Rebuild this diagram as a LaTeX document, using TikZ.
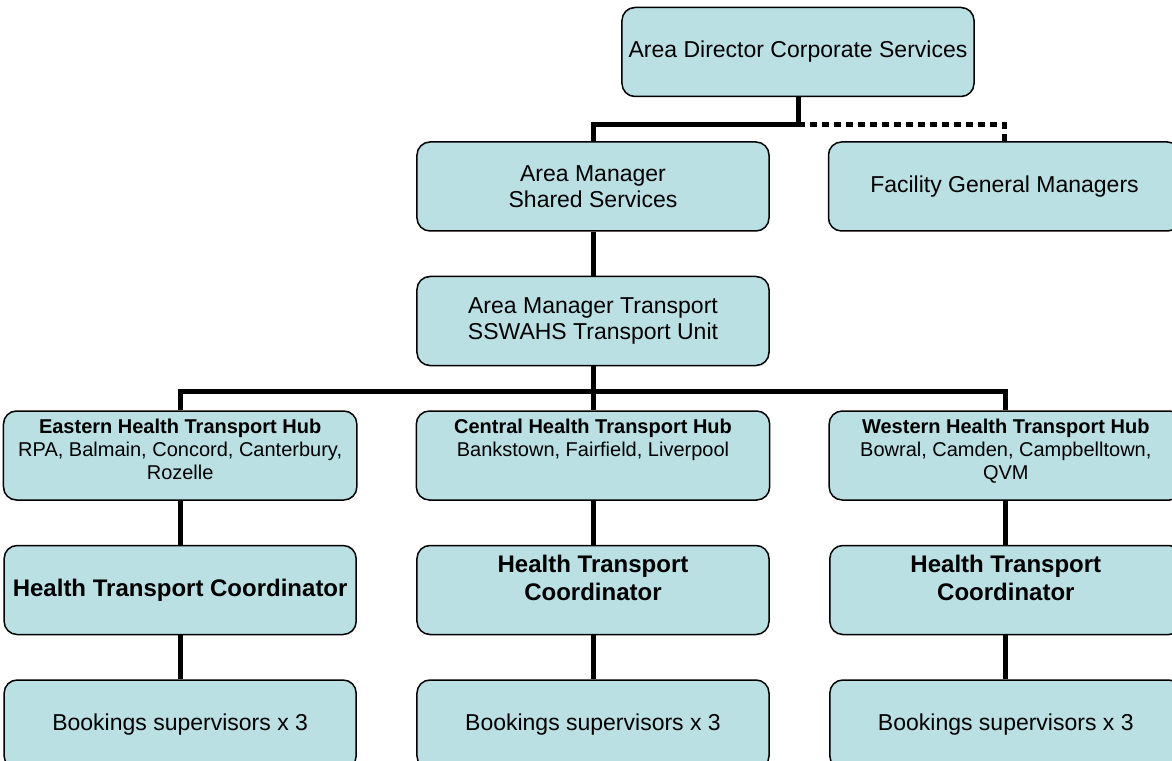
\documentclass[tikz,border=0pt]{standalone}
\usepackage{fontspec}
\setmainfont{Liberation Sans}
\usetikzlibrary{positioning}
\definecolor{boxfill}{RGB}{186,224,228}
\tikzset{
	node distance=22pt and 29pt, % gap between the boxes
	unit/.style={draw, line width=0.75pt, rounded corners=6.5pt, fill=boxfill,
		minimum width=176pt, minimum height=44.5pt, align=center,
		font=\fontsize{11.5}{13}\selectfont}, % every box of the chart
	hub/.style={unit, font=\fontsize{10}{11.5}\selectfont}, % the three hubs
	coord/.style={unit, inner ysep=1pt, font=\fontsize{12}{14}\selectfont\bfseries}, % coordinators
	link/.style={line width=2.5pt}, % solid reporting line
	dotlink/.style={line width=2.5pt, dash pattern=on 3.5pt off 2.5pt}, % dotted line
}

\begin{document}
\begin{tikzpicture}
	\useasboundingbox (-296.5pt,-219.5pt) rectangle (289.5pt,160.5pt);
	\clip (-296.5pt,-219.5pt) rectangle (289.5pt,160.5pt);

	\node[unit] (amt) {Area Manager Transport\\SSWAHS Transport Unit};
	\node[unit,above=of amt] (ams) {Area Manager\\Shared Services};
	\node[unit,right=of ams] (fgm) {Facility General Managers};
	\node[unit,above=of ams,xshift=102.5pt] (dir) {Area Director Corporate Services};

	\node[hub,below=of amt] (central) {\parbox[c][36pt][t]{170pt}{\centering\textbf{Central Health Transport Hub}\\Bankstown, Fairfield, Liverpool}};
	\node[hub,left=of central] (eastern) {\parbox[c][36pt][t]{170pt}{\centering\textbf{Eastern Health Transport Hub}\\RPA, Balmain, Concord, Canterbury,\\Rozelle}};
	\node[hub,right=of central] (western) {\parbox[c][36pt][t]{170pt}{\centering\textbf{Western Health Transport Hub}\\Bowral, Camden, Campbelltown,\\QVM}};

	\node[coord,below=of eastern] (ecoord) {Health Transport Coordinator};
	\node[coord,below=of central] (ccoord) {Health Transport\\Coordinator\\[-2pt]\mbox{}};
	\node[coord,below=of western] (wcoord) {Health Transport\\Coordinator\\[-2pt]\mbox{}};

	\node[unit,below=of ecoord] (ebook) {Bookings supervisors x 3};
	\node[unit,below=of ccoord] (cbook) {Bookings supervisors x 3};
	\node[unit,below=of wcoord] (wbook) {Bookings supervisors x 3};

	\coordinate[below=13.5pt of dir.south] (dirfork);
	\coordinate[below=12.5pt of amt.south] (amtfork);

	% upper levels
	\draw[link] (dir.south) -- (dirfork) -| (ams.north);
	\draw[dotlink] (dirfork) -| (fgm.north);
	\draw[link] (ams.south) -- (amt.north);

	% hubs
	\draw[link] (amt.south) -- (amtfork) -- (central.north);
	\draw[link] (amtfork) -| (eastern.north);
	\draw[link] (amtfork) -| (western.north);

	% down each hub
	\draw[link] (eastern.south) -- (ecoord.north)
		(ecoord.south) -- (ebook.north);
	\draw[link] (central.south) -- (ccoord.north)
		(ccoord.south) -- (cbook.north);
	\draw[link] (western.south) -- (wcoord.north)
		(wcoord.south) -- (wbook.north);
\end{tikzpicture}
\end{document}
